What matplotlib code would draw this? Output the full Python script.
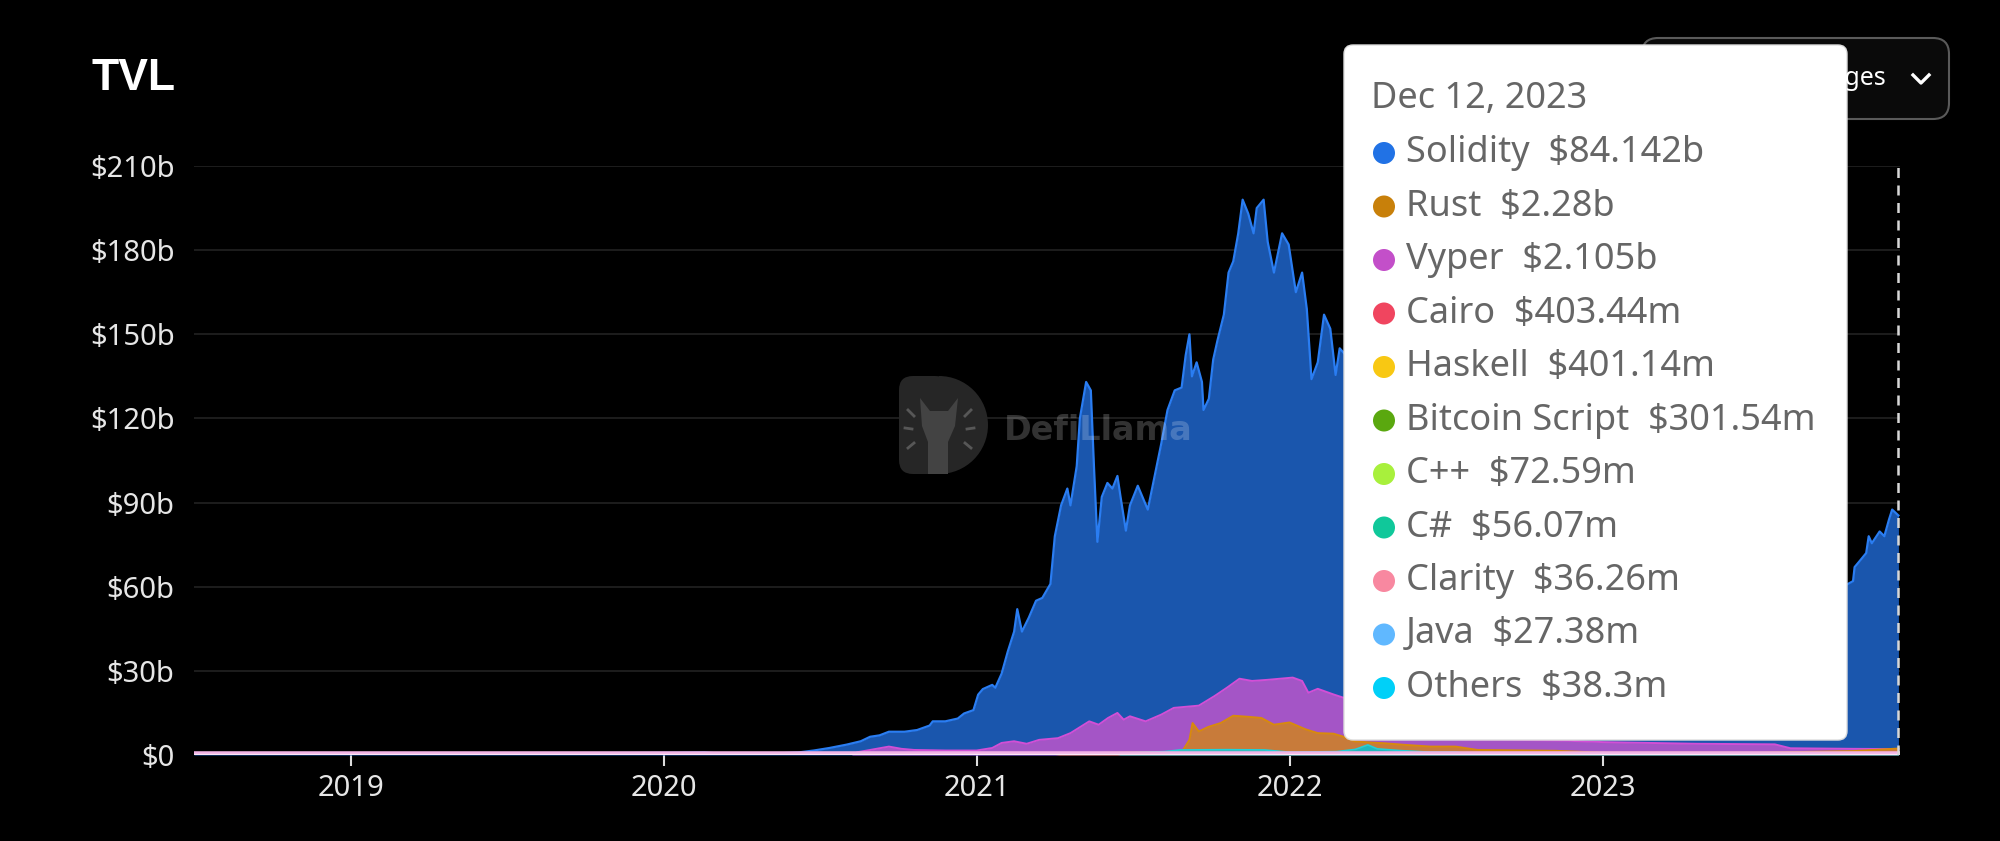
"""TVL by smart-contract language (DefiLlama style), dark theme with hover tooltip."""

import matplotlib

matplotlib.use("Agg")
import matplotlib.pyplot as plt
from matplotlib.patches import FancyBboxPatch, Circle, Polygon, Wedge
from matplotlib.lines import Line2D

plt.rcParams["font.family"] = ["Noto Sans", "DejaVu Sans"]

# ---- data (decimal years, values in $b) ----
solidity_x = [
    2018.50, 2018.70, 2018.90, 2019.10, 2019.30, 2019.50, 2019.70, 2019.90, 2020.05, 2020.13,
    2020.19, 2020.30, 2020.38, 2020.43, 2020.48, 2020.53, 2020.585, 2020.63, 2020.66, 2020.69,
    2020.72, 2020.77, 2020.81, 2020.85, 2020.86, 2020.90, 2020.94, 2020.96, 2020.99, 2021.005,
    2021.02, 2021.05, 2021.06, 2021.08, 2021.10, 2021.12, 2021.13, 2021.145, 2021.167, 2021.19,
    2021.21, 2021.236, 2021.25, 2021.27, 2021.29, 2021.30, 2021.32, 2021.33, 2021.35, 2021.365,
    2021.375, 2021.386, 2021.40, 2021.418, 2021.434, 2021.45, 2021.46, 2021.477, 2021.49, 2021.515,
    2021.547, 2021.57, 2021.59, 2021.61, 2021.633, 2021.655, 2021.668, 2021.68, 2021.688, 2021.703,
    2021.72, 2021.725, 2021.742, 2021.756, 2021.77, 2021.79, 2021.805, 2021.82, 2021.836, 2021.85,
    2021.868, 2021.885, 2021.895, 2021.917, 2021.93, 2021.95, 2021.976, 2021.997, 2022.02, 2022.04,
    2022.055, 2022.07, 2022.09, 2022.11, 2022.13, 2022.147, 2022.16, 2022.20, 2022.26, 2022.32,
    2022.36, 2022.42, 2022.46, 2022.50, 2022.58, 2022.66, 2022.75, 2022.85, 2022.87, 2022.95,
    2023.05, 2023.15, 2023.30, 2023.45, 2023.60, 2023.70, 2023.779, 2023.80, 2023.805, 2023.82,
    2023.842, 2023.85, 2023.86, 2023.885, 2023.90, 2023.915, 2023.925, 2023.945,
]
solidity_y = [
    0.25, 0.30, 0.30, 0.35, 0.45, 0.60, 0.65, 0.70, 0.80, 0.90,
    0.45, 0.50, 0.65, 0.9, 1.6, 2.5, 3.7, 4.9, 6.5, 7.0,
    8.3, 8.3, 8.9, 10.5, 12.0, 12.0, 13.0, 14.8, 16.0, 21.5,
    23.5, 25.0, 24.0, 29.0, 37.0, 44.0, 52.0, 44.0, 49.0, 55.0,
    56.0, 61.0, 78.0, 89.0, 95.0, 89.0, 103, 120, 133, 130,
    103, 76, 92, 97, 95, 99.5, 92, 80, 89, 96,
    87.5, 100, 111, 123, 130, 131, 142.5, 150, 135, 140,
    133, 123, 127, 141, 148, 157, 172, 176, 186, 198,
    193, 186, 195, 198, 183, 172, 186, 182, 165, 172,
    159, 134, 140, 157, 152, 135.5, 145, 140, 135, 120,
    95, 88, 70, 58, 62, 60, 57, 52, 45, 42,
    47, 50, 52, 50, 52, 55, 60.7, 62, 67, 69,
    72, 78, 75.5, 79.7, 78, 84, 87.5, 85.4,
]

vyper_x = [
    2018.50, 2020.60, 2020.62, 2020.66, 2020.72, 2020.76, 2020.80, 2020.90, 2021.00, 2021.05,
    2021.08, 2021.12, 2021.16, 2021.20, 2021.26, 2021.30, 2021.36, 2021.39, 2021.42, 2021.45,
    2021.47, 2021.49, 2021.54, 2021.59, 2021.63, 2021.71, 2021.76, 2021.80, 2021.84, 2021.88,
    2021.93, 2021.97, 2022.01, 2022.04, 2022.06, 2022.09, 2022.14, 2022.17, 2022.25, 2022.33,
    2022.37, 2022.45, 2022.55, 2022.70, 2022.86, 2023.00, 2023.30, 2023.55, 2023.60, 2023.80,
    2023.945,
]
vyper_y = [
    0, 0, 1.0, 1.8, 3.0, 2.2, 1.8, 1.6, 1.6, 2.5,
    4.3, 4.9, 4.0, 5.4, 6.0, 7.8, 12.0, 10.8, 13.2, 15.0,
    12.6, 13.8, 12.0, 14.4, 16.8, 17.6, 21.0, 24.0, 27.2, 26.4,
    26.8, 27.2, 27.6, 26.4, 22.2, 23.6, 21.6, 20.5, 19.0, 15.0,
    8.0, 6.5, 5.6, 5.4, 5.2, 4.6, 4.0, 3.8, 2.4, 2.2,
    2.1,
]

rust_x = [
    2018.50, 2021.25, 2021.30, 2021.62, 2021.66, 2021.68, 2021.69, 2021.71, 2021.74, 2021.78,
    2021.82, 2021.87, 2021.91, 2021.95, 2022.00, 2022.05, 2022.09, 2022.14, 2022.17, 2022.21,
    2022.30, 2022.37, 2022.45, 2022.53, 2022.60, 2022.85, 2023.00, 2023.50, 2023.80, 2023.945,
]
rust_y = [
    0, 0, 0.6, 1.0, 1.8, 5.4, 11.4, 8.4, 10.0, 11.4,
    14.0, 13.6, 13.2, 10.8, 11.6, 9.2, 7.8, 7.6, 6.6, 4.8,
    4.2, 3.6, 3.0, 3.0, 1.8, 1.5, 0.8, 0.8, 1.4, 2.3,
]

others_x = [
    2018.50, 2021.45, 2021.49, 2021.60, 2021.65, 2021.80, 2021.92, 2022.00, 2022.15, 2022.21,
    2022.25, 2022.28, 2022.35, 2022.45, 2022.53, 2022.60, 2023.945,
]
others_y = [
    0, 0, 0.8, 1.2, 1.8, 1.9, 1.8, 1.0, 1.2, 2.0,
    3.6, 2.2, 1.6, 1.0, 1.0, 0.3, 0.3,
]

year_ticks = [2019, 2020, 2021, 2022, 2023]
y_ticks = [0, 30, 60, 90, 120, 150, 180, 210]
y_labels = ["$0", "$30b", "$60b", "$90b", "$120b", "$150b", "$180b", "$210b"]

hover_x = 2023.945
tooltip_date = "Dec 12, 2023"
tooltip_names = ["Solidity", "Rust", "Vyper", "Cairo", "Haskell", "Bitcoin Script",
                 "C++", "C#", "Clarity", "Java", "Others"]
tooltip_values = ["$84.142b", "$2.28b", "$2.105b", "$403.44m", "$401.14m", "$301.54m",
                  "$72.59m", "$56.07m", "$36.26m", "$27.38m", "$38.3m"]
tooltip_colors = ["#2172e5", "#c8800a", "#c34fc9", "#f0455f", "#f8c813", "#5aa80f",
                  "#a8f03c", "#10c89a", "#f888a0", "#60b8ff", "#00d0f8"]

W, H = 2000, 841
fig = plt.figure(figsize=(W / 100, H / 100), dpi=100, facecolor="black")

# main plot area in pixel terms: x 194..1900, y 166..755 (from top)
ax = fig.add_axes([194 / W, 1 - 755 / H, (1900 - 194) / W, (755 - 166) / H])
ax.set_facecolor("black")

ax.fill_between(solidity_x, 0, solidity_y, color="#1a56ad", lw=0, zorder=2)
ax.plot(solidity_x, solidity_y, color="#2a7df2", lw=1.6, zorder=3)
ax.fill_between(vyper_x, 0, vyper_y, color="#a455c6", lw=0, zorder=4)
ax.plot(vyper_x, vyper_y, color="#d24fd6", lw=1.4, zorder=5)
ax.fill_between(rust_x, 0, rust_y, color="#c87b3a", lw=0, zorder=6)
ax.plot(rust_x, rust_y, color="#d88a0c", lw=1.4, zorder=7)
ax.fill_between(others_x, 0, others_y, color="#1fb8c0", lw=0, zorder=8)
ax.plot(others_x, others_y, color="#22d0d8", lw=1.2, zorder=9)
# tiny series hugging the baseline
ax.axhline(0.4, color="#f2b4e6", lw=4, zorder=10)
ax.axhline(0.4, color="#fde6f6", lw=1.0, zorder=11)

# hover marker line
ax.plot([hover_x, hover_x], [0, 210], color="#d8d8d8", lw=1.8,
        linestyle=(0, (4, 3)), zorder=12)

ax.set_xlim(2018.5, 2023.95)
ax.set_ylim(0, 210)
ax.set_yticks(y_ticks)
ax.set_yticklabels(y_labels)
ax.set_xticks(year_ticks)
ax.set_xticklabels([str(y) for y in year_ticks])
ax.grid(axis="y", color="#222222", lw=1.2, zorder=0)
ax.tick_params(axis="y", length=0, pad=14, labelsize=21, labelcolor="#e6e6e6")
ax.tick_params(axis="x", length=8, width=1.5, color="#dddddd", pad=6,
               labelsize=21, labelcolor="#e6e6e6")
for s in ax.spines.values():
    s.set_visible(False)

# overlay in pixel coordinates
ov = fig.add_axes([0, 0, 1, 1])
ov.set_xlim(0, W)
ov.set_ylim(H, 0)
ov.axis("off")
ov.set_zorder(5)

ov.text(92, 78, "TVL", color="white", fontsize=32, fontweight="bold",
        family="Liberation Sans", ha="left", va="center")

# DefiLlama watermark: D-shaped logo plus semi-transparent word mark
ov.add_patch(FancyBboxPatch((899, 376), 50, 98, boxstyle="round,pad=0,rounding_size=14",
                            fc="#262626", ec="none"))
ov.add_patch(Wedge((939, 425), 49, -90, 90, fc="#262626", ec="none"))
ov.add_patch(Polygon([(920, 398), (930, 411), (948, 411), (958, 398), (955, 426), (948, 442),
                      (948, 474), (928, 474), (928, 442), (922, 426)],
                     closed=True, fc="#434343", ec="none"))
for (x0, y0, x1, y1) in [(908, 410, 914, 416), (905, 428, 912, 429), (908, 448, 914, 443),
                         (971, 410, 965, 416), (974, 428, 967, 429), (971, 448, 965, 443)]:
    ov.add_line(Line2D([x0, x1], [y0, y1], color="#575757", lw=2))
ov.text(1004, 430, "DefiLlama", fontsize=24, fontweight="bold", family="DejaVu Sans",
        color="white", alpha=0.2, ha="left", va="center")

# selector button (mostly hidden by tooltip)
ov.add_patch(FancyBboxPatch((1642, 38), 307, 81, boxstyle="round,pad=0,rounding_size=16",
                            fc="#0a0a0a", ec="#5a5a5a", lw=1.5))
ov.text(1886, 78, "Languages", color="white", fontsize=18, ha="right", va="center")
ov.plot([1913, 1921, 1929], [75, 83, 75], color="white", lw=2.4)

# tooltip
ov.add_patch(FancyBboxPatch((1344, 45), 503, 695, boxstyle="round,pad=0,rounding_size=9",
                            fc="white", ec="#dddddd", lw=1))
ov.text(1371, 99, tooltip_date, color="#666666", fontsize=26, ha="left", va="center")
for i, (name, val, col) in enumerate(zip(tooltip_names, tooltip_values, tooltip_colors)):
    yy = 153 + i * 53.5
    ov.add_patch(Circle((1384, yy), 11, fc=col, ec="none"))
    ov.text(1406, yy, f"{name}  {val}", color="#666666", fontsize=26,
            ha="left", va="center")

fig.savefig("out.png", dpi=100, facecolor="black")
